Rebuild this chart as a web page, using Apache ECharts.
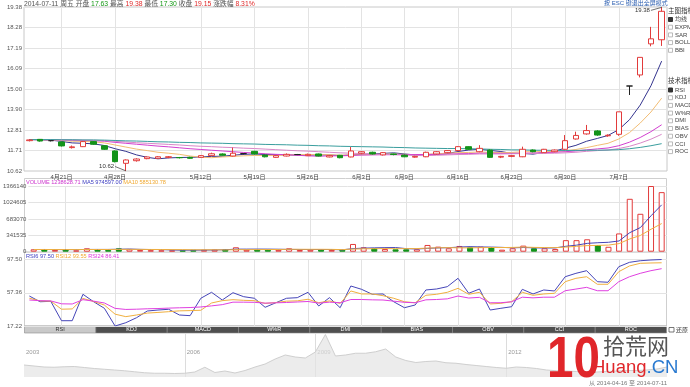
<!DOCTYPE html>
<html><head><meta charset="utf-8">
<script src="https://cdn.jsdelivr.net/npm/echarts@6/dist/echarts.min.js"></script>
<style>html,body{margin:0;padding:0;background:#fff}#c{width:690px;height:387px}</style>
</head><body><div id="c"></div>
<script>
// ---------------- data ----------------
const dates = ['4月16日','4月17日','4月18日','4月21日','4月22日','4月23日','4月24日','4月25日','4月28日','4月29日','4月30日','5月5日','5月6日','5月7日','5月8日','5月9日','5月12日','5月13日','5月14日','5月15日','5月16日','5月19日','5月20日','5月21日','5月22日','5月23日','5月26日','5月27日','5月28日','5月29日','5月30日','6月3日','6月4日','6月5日','6月6日','6月9日','6月10日','6月11日','6月12日','6月13日','6月16日','6月17日','6月18日','6月19日','6月20日','6月23日','6月24日','6月25日','6月26日','6月27日','6月30日','7月1日','7月2日','7月3日','7月4日','7月7日','7月8日','7月9日','7月10日','7月11日'];
const tickDates = ['4月21日','4月28日','5月12日','5月19日','5月26日','6月3日','6月9日','6月16日','6月23日','6月30日','7月7日'];

const opens  = [12.24,12.31,12.24,12.17,11.87,11.92,12.19,11.97,11.69,11.03,11.17,11.28,11.30,11.35,11.34,11.35,11.35,11.44,11.53,11.42,11.55,11.67,11.47,11.35,11.42,11.50,11.44,11.53,11.37,11.46,11.37,11.57,11.62,11.48,11.53,11.47,11.36,11.38,11.53,11.60,11.71,11.92,11.65,11.74,11.36,11.40,11.38,11.74,11.60,11.65,11.78,12.33,12.60,12.76,12.50,12.58,15.16,15.75,17.41,17.63];
const closes = [12.28,12.22,12.24,11.96,11.91,12.19,12.05,11.78,11.12,11.21,11.26,11.37,11.38,11.38,11.33,11.30,11.44,11.54,11.46,11.57,11.55,11.53,11.38,11.44,11.51,11.50,11.51,11.42,11.44,11.33,11.69,11.65,11.53,11.60,11.50,11.38,11.40,11.62,11.65,11.71,11.92,11.78,11.83,11.35,11.40,11.44,11.78,11.65,11.78,11.74,12.24,12.52,12.78,12.54,12.53,13.78,15.16,16.69,17.68,19.15];
const lows   = [12.20,12.19,12.20,11.93,11.82,11.90,12.02,11.75,11.08,10.62,11.12,11.25,11.27,11.30,11.29,11.27,11.33,11.42,11.44,11.40,11.50,11.50,11.35,11.33,11.40,11.47,11.42,11.40,11.35,11.30,11.35,11.52,11.50,11.45,11.46,11.36,11.33,11.36,11.50,11.57,11.69,11.75,11.62,11.32,11.31,11.36,11.36,11.62,11.58,11.62,11.76,12.30,12.56,12.50,12.45,12.50,14.68,15.62,17.28,17.30];
const highs  = [12.31,12.33,12.27,12.20,11.98,12.22,12.22,12.00,11.72,11.24,11.30,11.40,11.42,11.42,11.37,11.38,11.47,11.60,11.56,11.87,11.58,11.70,11.49,11.47,11.56,11.53,11.55,11.55,11.47,11.48,11.90,11.68,11.65,11.63,11.55,11.50,11.43,11.65,11.68,11.74,11.95,11.94,12.00,11.77,11.43,11.47,11.92,11.77,11.80,11.77,12.54,12.72,13.08,12.80,12.58,13.78,15.16,16.69,18.32,19.38];

const ma5  = [12.30,12.28,12.27,12.20,12.12,12.10,12.07,11.98,11.81,11.67,11.48,11.35,11.27,11.32,11.34,11.35,11.37,11.40,11.41,11.46,11.51,11.53,11.50,11.49,11.48,11.47,11.47,11.48,11.48,11.44,11.48,11.51,11.53,11.56,11.59,11.53,11.48,11.50,11.51,11.55,11.66,11.74,11.78,11.72,11.66,11.56,11.56,11.52,11.61,11.68,11.84,11.99,12.21,12.36,12.52,12.83,13.36,14.14,15.17,16.49];
const ma10 = [12.30,12.29,12.28,12.25,12.21,12.20,12.18,12.12,12.01,11.90,11.79,11.71,11.62,11.57,11.51,11.42,11.36,11.33,11.37,11.40,11.43,11.45,11.45,11.45,11.47,11.49,11.50,11.49,11.49,11.46,11.48,11.49,11.50,11.52,11.52,11.51,11.49,11.51,11.54,11.57,11.60,11.61,11.64,11.61,11.60,11.61,11.65,11.65,11.66,11.67,11.70,11.77,11.87,11.99,12.10,12.33,12.67,13.18,13.77,14.51];
const ma20 = [12.30,12.30,12.29,12.28,12.26,12.25,12.24,12.21,12.15,12.10,12.05,12.00,11.95,11.91,11.86,11.81,11.77,11.73,11.69,11.65,11.61,11.58,11.54,11.51,11.49,11.46,11.43,11.41,11.43,11.43,11.45,11.47,11.48,11.49,11.49,11.50,11.50,11.50,11.51,11.52,11.54,11.55,11.57,11.57,11.56,11.56,11.57,11.58,11.60,11.62,11.65,11.69,11.75,11.80,11.85,11.97,12.16,12.41,12.72,13.09];
const ma30 = [12.30,12.30,12.29,12.28,12.27,12.27,12.26,12.24,12.20,12.17,12.13,12.10,12.07,12.04,12.01,11.97,11.94,11.92,11.89,11.87,11.84,11.82,11.79,11.76,11.73,11.70,11.68,11.65,11.62,11.59,11.57,11.55,11.52,11.51,11.50,11.47,11.45,11.44,11.46,11.48,11.50,11.51,11.53,11.53,11.53,11.54,11.55,11.55,11.56,11.57,11.59,11.62,11.67,11.71,11.74,11.82,11.94,12.11,12.32,12.58];
const ma60 = [12.30,12.30,12.30,12.29,12.29,12.28,12.28,12.27,12.25,12.23,12.22,12.20,12.18,12.17,12.15,12.14,12.12,12.11,12.10,12.08,12.07,12.06,12.04,12.03,12.02,12.00,11.99,11.97,11.96,11.94,11.93,11.92,11.91,11.90,11.88,11.87,11.85,11.84,11.83,11.82,11.82,11.81,11.80,11.78,11.77,11.75,11.75,11.73,11.73,11.72,11.72,11.72,11.73,11.73,11.74,11.76,11.81,11.88,11.97,12.08];

const volumes = [50000,50000,36000,50000,29000,71000,50000,36000,71000,50000,36000,32000,30000,28000,30000,38000,40000,45000,50000,92000,40000,45000,42000,38000,71000,35000,40000,44000,36000,40000,161000,92000,71000,57000,50000,50000,50000,140000,105000,71000,119000,92000,105000,92000,42000,71000,126000,71000,71000,57000,240000,240000,258000,138000,102000,380000,1100000,788216,1366140,1238628.71];
const volMa5  = [45000,46000,44000,44000,43000,47200,47200,47200,51400,55600,48600,45000,43800,35200,31200,31600,33200,36200,40600,53000,53400,54400,53800,51400,47200,46200,45200,45600,45200,39000,64200,74600,80000,84200,86200,64000,55600,69400,79000,83200,97000,105400,98400,95800,90000,80400,87200,80400,76200,79200,113000,135800,173200,186600,195600,223600,395600,501600,747200,974597.00];
const volMa10 = [46000,46000,45000,45000,44000,45000,46000,46000,48000,49300,47900,46100,45500,43300,43400,40100,39100,40000,37900,42100,42500,43800,45000,46000,50100,49800,49800,49700,48300,43100,55200,59900,62800,64700,62600,64100,65100,74700,81600,84700,80500,80500,83900,87400,86600,88700,96300,89400,86000,84600,96700,111500,126800,131400,137400,168300,265700,337400,466900,585130.78];

const rsi6  = [53.4,46.5,47.0,23.6,23.6,55.5,46.5,38.6,17.22,21.2,27.2,35.3,36.5,37.4,30.5,29.7,50.7,57.9,48.6,57.4,52.6,50.7,39.8,45.3,50.7,51.4,57.9,41.4,51.4,39.3,65.5,61.5,55.5,55.9,46.5,39.3,42.6,60.7,61.9,64.7,74.8,56.7,61.9,36.5,38.6,40.5,61.5,55.9,60.7,59.5,76.7,80.8,84.0,70.7,70.0,88.8,94.1,96.0,96.9,97.50];
const rsi12 = [50.7,47.5,47.2,37.5,37.8,50.5,46.8,42.5,31.5,28.5,30.5,32.8,33.6,34.5,35.5,35.8,36.2,45.0,47.8,49.0,48.2,47.8,44.5,45.5,47.2,47.6,49.5,45.3,47.5,44.5,59.5,55.9,55.9,53.8,50.7,46.5,45.3,54.3,55.5,57.9,62.7,55.5,57.9,43.8,44.6,46.5,57.9,54.3,55.9,56.7,70.7,74.8,76.7,67.6,67.6,82.8,89.7,92.9,93.3,93.55];
const rsi24 = [48.6,47.8,47.5,44.0,43.8,49.0,47.2,45.0,38.5,37.2,37.5,38.0,38.3,38.8,39.2,39.5,40.2,41.5,43.0,46.0,46.0,45.8,44.8,45.2,45.6,46.2,46.8,44.8,46.0,45.3,49.2,49.2,48.8,48.6,47.2,45.8,45.3,48.8,49.2,50.0,53.4,51.0,51.8,45.3,45.3,46.5,52.0,51.2,52.0,52.0,59.8,61.8,63.9,59.8,59.8,70.7,76.7,80.8,84.0,86.41];

const priceMin = 10.62, priceMax = 19.38, priceStep = 1.095;
const volMax = 1366140, volStep = 341535;
const rsiMin = 17.22, rsiMax = 97.50, rsiStep = 40.14;

const overviewValues = [9.6,8.8,8.0,7.8,8.2,8.4,7.6,6.8,6.2,5.6,5.0,4.2,3.4,3.0,3.0,2.8,3.0,4.0,7.8,3.6,4.8,3.2,5.2,8.0,10.4,14.4,17.6,16.0,15.2,20.0,34.0,16.8,17.6,19.0,19.0,20.2,22.4,16.0,13.2,11.6,12.4,12.8,11.4,11.0,10.0,9.2,8.4,7.6,7.0,8.0,7.6,6.8,5.6,5.0,4.8,4.4,4.0,4.0,4.4,4.8,5.2,5.2,5.6,6.4,8.0];
const overviewYears = {0:'2003',16:'2006',29:'2009',48:'2012'};

const mainIndicators = ['均线','EXPMA','SAR','BOLL','BBI'];
const techIndicators = ['RSI','KDJ','MACD','W%R','DMI','BIAS','OBV','CCI','ROC'];

// ---------------- build ----------------
const FONT = '"Liberation Sans","Noto Sans CJK SC",sans-serif';
const RED = '#e23b3b', GREEN = '#13931a', DOJI = '#222';
const C_MA5 = '#35358f', C_MA10 = '#f2bd74', C_MA20 = '#d23fd0', C_MA30 = '#d887c8', C_MA60 = '#3a9e9e';
const C_NAVY = '#4545b8', C_ORANGE = '#f0b040', C_MAG = '#e040e0';
const tickSet = new Set(tickDates);
const isTick = (i, v) => tickSet.has(v);
const last = dates.length - 1;

const candleData = dates.map((d, i) => {
  const item = { value: [opens[i], closes[i], lows[i], highs[i]] };
  if (opens[i] === closes[i]) item.itemStyle = { color: DOJI, color0: DOJI, borderColor: DOJI, borderColor0: DOJI };
  return item;
});
const volData = volumes.map((v, i) => {
  const up = closes[i] >= opens[i];
  return { value: v, itemStyle: up ? { color: '#fff', borderColor: RED, borderWidth: 1 } : { color: GREEN, borderColor: GREEN, borderWidth: 1 } };
});

const line = (data, color, xi, yi) => ({
  type: 'line', data, xAxisIndex: xi, yAxisIndex: yi, symbol: 'none', silent: true,
  lineStyle: { color, width: 1 }, itemStyle: { color }, z: 3
});

const catAxis = (gi, showLabel) => ({
  type: 'category', gridIndex: gi, data: dates, boundaryGap: true,
  axisLine: { show: false }, axisTick: { show: false, alignWithLabel: true },
  axisLabel: { show: showLabel, interval: isTick, fontSize: 6, color: '#444', margin: 3, fontFamily: FONT },
  splitLine: { show: true, interval: isTick, alignWithLabel: true, lineStyle: { color: '#e3e3e3', width: 1 } }
});

const lblStyle = { fontSize: 6, color: '#555', margin: 2, fontFamily: FONT };

const g = [];
const txt = (x, y, text, extra) => g.push({ type: 'text', x, y, silent: true, style: Object.assign({ text, fill: '#444', fontSize: 6, fontFamily: FONT, verticalAlign: 'middle' }, extra || {}) });

// header
const f2 = v => v.toFixed(2);
const pct = ((closes[last] / closes[last - 1] - 1) * 100).toFixed(2) + '%';
g.push({ type: 'text', x: 24, y: 4, silent: true, style: {
  text: '{k|2014-07-11 周五 开盘} {g|' + f2(opens[last]) + '} {k|最高} {r|' + f2(highs[last]) + '} {k|最低} {g|' + f2(lows[last]) + '} {k|收盘} {r|' + f2(closes[last]) + '} {k|涨跌幅} {r|' + pct + '}',
  fontSize: 6.8, fontFamily: FONT, verticalAlign: 'middle',
  rich: { k: { fill: '#555', fontSize: 6.8, fontFamily: FONT }, g: { fill: '#169a16', fontSize: 6.8, fontFamily: FONT }, r: { fill: '#e02a2a', fontSize: 6.8, fontFamily: FONT } }
}});
txt(604, 3.5, '按 ESC 键退出全屏模式', { fill: '#2a5db0' });

// right panel
txt(668, 11.5, '主图指标', { fill: '#333', fontSize: 6.5 });
mainIndicators.forEach((n, k) => {
  const y = 19.5 + k * 7.7;
  g.push({ type: 'rect', silent: true, shape: { x: 668.5, y: y - 2, width: 4, height: 4 }, style: k === 0 ? { fill: '#333', stroke: '#333' } : { fill: '#fff', stroke: '#aaa', lineWidth: 0.8 } });
  txt(675, y, n);
});
txt(668, 81, '技术指标', { fill: '#333', fontSize: 6.5 });
techIndicators.forEach((n, k) => {
  const y = 90 + k * 7.7;
  g.push({ type: 'rect', silent: true, shape: { x: 668.5, y: y - 2, width: 4, height: 4 }, style: k === 0 ? { fill: '#333', stroke: '#333' } : { fill: '#fff', stroke: '#aaa', lineWidth: 0.8 } });
  txt(675, y, n);
});

// panel boxes
g.push({ type: 'rect', silent: true, shape: { x: 24.5, y: 178.5, width: 642, height: 73.5 }, style: { fill: 'none', stroke: '#cfcfcf', lineWidth: 1 } });
g.push({ type: 'rect', silent: true, shape: { x: 24.5, y: 252, width: 642, height: 74 }, style: { fill: 'none', stroke: '#cfcfcf', lineWidth: 1 } });

// volume + rsi headers
g.push({ type: 'text', x: 26, y: 182.3, silent: true, style: {
  text: '{m|VOLUME ' + volumes[last].toFixed(2) + '} {b|MA5 ' + volMa5[last].toFixed(2) + '} {o|MA10 ' + volMa10[last].toFixed(2) + '}',
  fontSize: 5.6, fontFamily: FONT, verticalAlign: 'middle',
  rich: { m: { fill: '#cc33cc', fontSize: 5.6, fontFamily: FONT }, b: { fill: '#3b3bc0', fontSize: 5.6, fontFamily: FONT }, o: { fill: '#f0a830', fontSize: 5.6, fontFamily: FONT } }
}});
g.push({ type: 'text', x: 26, y: 256.3, silent: true, style: {
  text: '{b|RSI6 ' + rsi6[last].toFixed(2) + '} {o|RSI12 ' + rsi12[last].toFixed(2) + '} {m|RSI24 ' + rsi24[last].toFixed(2) + '}',
  fontSize: 5.6, fontFamily: FONT, verticalAlign: 'middle',
  rich: { m: { fill: '#dd33dd', fontSize: 5.6, fontFamily: FONT }, b: { fill: '#3b3bc0', fontSize: 5.6, fontFamily: FONT }, o: { fill: '#f0a830', fontSize: 5.6, fontFamily: FONT } }
}});

// tabs
const tabW = 642 / techIndicators.length;
techIndicators.forEach((n, k) => {
  const x = 24.5 + k * tabW;
  g.push({ type: 'rect', silent: true, shape: { x, y: 326, width: tabW, height: 7 }, style: { fill: k === 0 ? '#c9c9c9' : '#4f4f4f', stroke: '#8a8a8a', lineWidth: 0.6 } });
  g.push({ type: 'text', x: x + tabW / 2, y: 329.6, silent: true, style: { text: n, fill: k === 0 ? '#333' : '#fff', fontSize: 5.5, fontFamily: FONT, align: 'center', verticalAlign: 'middle' } });
});
g.push({ type: 'rect', silent: true, shape: { x: 669, y: 327.5, width: 5, height: 4.5 }, style: { fill: '#fff', stroke: '#555', lineWidth: 0.8 } });
txt(676, 330, '还原', { fill: '#333' });

// date range
g.push({ type: 'text', x: 667, y: 383, silent: true, style: { text: '从 2014-04-16 至 2014-07-11', fill: '#777', fontSize: 6, fontFamily: FONT, align: 'right', verticalAlign: 'middle' } });

// watermark
g.push({ type: 'text', x: 547, y: 361, scaleX: 0.82, originX: 0, originY: 0, silent: true, z: 100, style: { text: '10', fill: '#e0262a', fontSize: 58, fontWeight: 'bold', fontFamily: FONT, verticalAlign: 'middle' } });
g.push({ type: 'text', x: 603, y: 346, silent: true, z: 101, style: { text: '拾荒网', fill: '#555', fontSize: 22, fontFamily: '"Noto Sans CJK SC",sans-serif', verticalAlign: 'middle' } });
g.push({ type: 'text', x: 592, y: 368, silent: true, z: 101, style: { text: '{r|Huang}{b|.CN}', fontSize: 18.5, fontFamily: FONT, verticalAlign: 'middle', rich: { r: { fill: '#e0262a', fontSize: 18.5, fontFamily: FONT }, b: { fill: '#2a7ad0', fontSize: 18.5, fontFamily: FONT } } } });

const option = {
  animation: false,
  backgroundColor: '#fff',
  textStyle: { fontFamily: FONT },
  grid: [
    { left: 24, right: 23, top: 7, height: 164, show: true, borderColor: '#c8c8c8', borderWidth: 1 },
    { left: 24, right: 23, top: 186, height: 65.7 },
    { left: 24, right: 23, top: 259.5, height: 66.5 },
    { left: 24, right: 23, top: 333, height: 44 }
  ],
  xAxis: [
    catAxis(0, true),
    catAxis(1, false),
    catAxis(2, false),
    { type: 'category', gridIndex: 3, data: overviewValues.map((v, i) => 'p' + i), boundaryGap: false,
      axisLine: { show: false }, axisTick: { show: false },
      axisLabel: { show: true, inside: true, interval: (i) => overviewYears[i] !== undefined, formatter: (v, i) => overviewYears[i] || '', align: 'left', fontSize: 6, color: '#999', margin: 22, padding: [0, 0, 0, 2], fontFamily: FONT },
      splitLine: { show: true, interval: (i) => overviewYears[i] !== undefined && i > 0, lineStyle: { color: '#dcdcdc' } } }
  ],
  yAxis: [
    { type: 'value', gridIndex: 0, min: priceMin, max: priceMax, interval: priceStep, scale: true,
      axisLine: { show: false }, axisTick: { show: false },
      axisLabel: Object.assign({ formatter: v => (Math.floor(v * 100 + 1e-4) / 100).toFixed(2) }, lblStyle),
      splitLine: { lineStyle: { color: '#e3e3e3' } } },
    { type: 'value', gridIndex: 1, min: 0, max: volMax, interval: volStep,
      axisLine: { show: false }, axisTick: { show: false },
      axisLabel: Object.assign({ formatter: v => String(Math.round(v)) }, lblStyle),
      splitLine: { lineStyle: { color: '#e3e3e3' } } },
    { type: 'value', gridIndex: 2, min: rsiMin, max: rsiMax, interval: rsiStep,
      axisLine: { show: false }, axisTick: { show: false },
      axisLabel: Object.assign({ formatter: v => v.toFixed(2) }, lblStyle),
      splitLine: { lineStyle: { color: '#e3e3e3' } } },
    { type: 'value', gridIndex: 3, min: 0, max: 35.2, show: false, splitLine: { show: false } }
  ],
  series: [
    { type: 'candlestick', xAxisIndex: 0, yAxisIndex: 0, data: candleData, barWidth: 6, z: 4,
      itemStyle: { color: '#fff', color0: GREEN, borderColor: RED, borderColor0: GREEN, borderWidth: 1 },
      markPoint: { symbol: 'circle', symbolSize: 0, silent: true,
        label: { show: true, position: 'left', distance: 1, fontSize: 6, color: '#333', fontFamily: FONT, formatter: p => p.value },
        data: [ { coord: [dates[8], 10.86], value: lows[9].toFixed(2) }, { coord: [dates[58], 19.20], value: highs[last].toFixed(2) } ] },
      markLine: { symbol: ['none', 'none'], silent: true, label: { show: false }, lineStyle: { color: '#333', width: 0.7, type: 'solid' },
        data: [ [ { coord: [dates[8], 10.86] }, { coord: [dates[9], 10.63] } ], [ { coord: [dates[58], 19.20] }, { coord: [dates[59], 19.36] } ] ] } },
    line(ma5, C_MA5, 0, 0),
    line(ma10, C_MA10, 0, 0),
    line(ma20, C_MA20, 0, 0),
    line(ma30, C_MA30, 0, 0),
    line(ma60, C_MA60, 0, 0),
    { type: 'bar', xAxisIndex: 1, yAxisIndex: 1, data: volData, barWidth: 6, silent: true },
    line(volMa5, C_NAVY, 1, 1),
    line(volMa10, C_ORANGE, 1, 1),
    line(rsi6, C_NAVY, 2, 2),
    line(rsi12, C_ORANGE, 2, 2),
    line(rsi24, C_MAG, 2, 2),
    { type: 'line', xAxisIndex: 3, yAxisIndex: 3, data: overviewValues, symbol: 'none', silent: true,
      lineStyle: { color: '#cfcfcf', width: 1 }, areaStyle: { color: '#e4e4e4' } }
  ],
  graphic: g
};
const chart = echarts.init(document.getElementById('c'));
chart.setOption(option);
</script>
</body></html>
